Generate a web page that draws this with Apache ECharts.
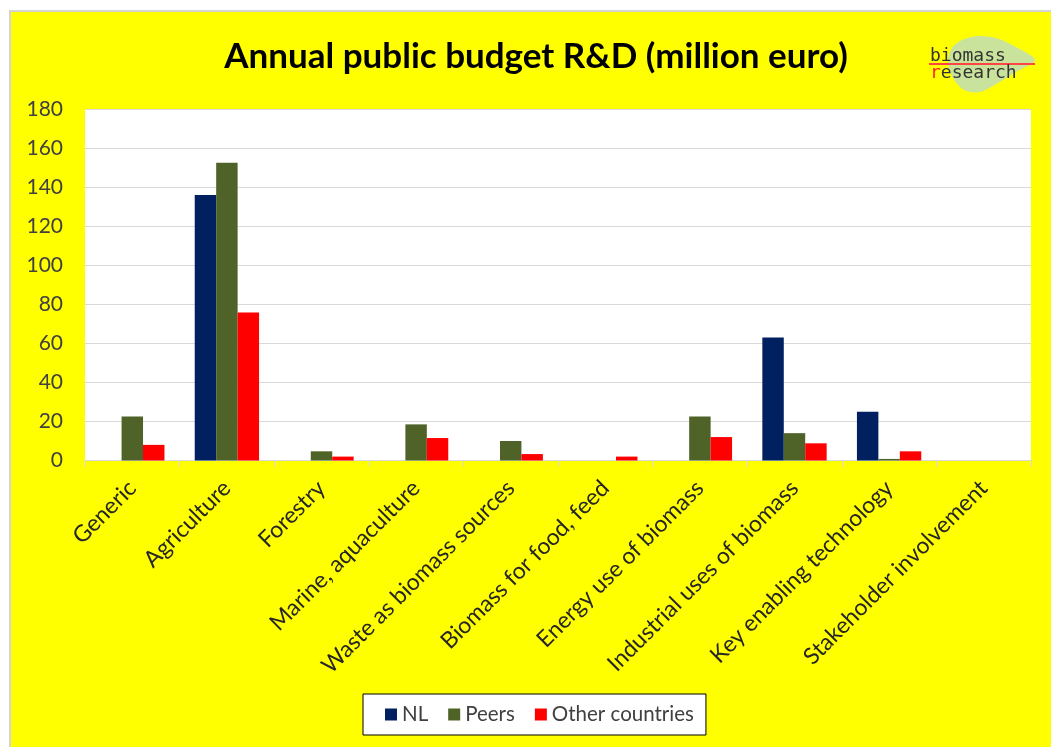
<!DOCTYPE html>
<html>
<head>
<meta charset="utf-8">
<script src="https://cdn.jsdelivr.net/npm/echarts@6/dist/echarts.min.js"></script>
<style>
html,body{margin:0;padding:0;background:#fff;}
#c{width:1051px;height:747px;}
</style>
</head>
<body>
<div id="c"></div>
<script>
const categories = ["Generic","Agriculture","Forestry","Marine, aquaculture","Waste as biomass sources","Biomass for food, feed","Energy use of biomass","Industrial uses of biomass","Key enabling technology","Stakeholder involvement"];
const nlValues = [0,136,0,0,0,0,0,63,25,0];
const peersValues = [22.5,152.5,4.7,18.5,10,0,22.5,14,0.8,0];
const otherValues = [8,75.8,2,11.5,3.3,2,12,8.8,4.7,0];
const seriesNames = ["NL","Peers","Other countries"];
const yTicks = {min:0,max:180,interval:20};

const FONT = 'Lato, "Open Sans", sans-serif';
const MONO = '18px "DejaVu Sans Mono", monospace';
const chart = echarts.init(document.getElementById('c'), null, {renderer:'canvas'});
chart.setOption({
  backgroundColor:'transparent',
  animation:false,
  graphic:[
    {type:'rect',z:-10,shape:{x:10,y:11,width:1050,height:745},style:{fill:'#FFFF00',stroke:'#d4d4d4',lineWidth:2}},
    {type:'polygon',z:-5,shape:{smooth:0.3,points:[[948,62],[952,48],[962,40],[978,36],[996,38],[1014,46],[1035,60],[1016,72],[998,83],[980,92],[964,90],[953,78]]},style:{fill:'#c9e29c'}},
    {type:'text',z:5,style:{x:930,y:47,text:'biomass',font:MONO,fill:'#333333'}},
    {type:'line',z:5,shape:{x1:929,y1:64,x2:1035,y2:64},style:{stroke:'#ff4444',lineWidth:2}},
    {type:'text',z:5,style:{x:930,y:64,text:'{r|r}{t|esearch}',rich:{r:{fill:'#ff2020',font:MONO},t:{fill:'#333333',font:MONO}}}}
  ],
  title:{text:'Annual public budget R&D (million euro)',left:531,textAlign:'center',top:34,
    textStyle:{fontFamily:FONT,fontWeight:'bold',fontSize:35,color:'#000'}},
  legend:{data:seriesNames,left:363,top:694,itemWidth:12,itemHeight:12,itemGap:20,
    padding:[10,12,10,22],backgroundColor:'#fff',borderColor:'#000',borderWidth:1,borderRadius:0,
    icon:'rect',textStyle:{fontFamily:FONT,fontSize:20.5,color:'#404040'}},
  grid:{left:85,right:20,top:109,bottom:286.5,show:true,backgroundColor:'#fff',borderWidth:0},
  xAxis:{type:'category',data:categories,
    axisLine:{lineStyle:{color:'#d9d9d9',width:1}},
    axisTick:{show:true,length:6,lineStyle:{color:'#d9d9d9'}},
    axisLabel:{rotate:45,interval:0,margin:24,fontFamily:FONT,fontSize:23,color:'#262626'}},
  yAxis:{type:'value',min:yTicks.min,max:yTicks.max,interval:yTicks.interval,
    axisLine:{show:false},axisTick:{show:false},
    splitLine:{lineStyle:{color:'#d9d9d9',width:1}},
    axisLabel:{margin:22,fontFamily:FONT,fontSize:21,color:'#404040'}},
  series:[
    {name:seriesNames[0],type:'bar',data:nlValues,itemStyle:{color:'#002060'},barGap:'0%',barCategoryGap:'32%'},
    {name:seriesNames[1],type:'bar',data:peersValues,itemStyle:{color:'#4F6228'},barGap:'0%',barCategoryGap:'32%'},
    {name:seriesNames[2],type:'bar',data:otherValues,itemStyle:{color:'#FF0000'},barGap:'0%',barCategoryGap:'32%'}
  ]
});
</script>
</body>
</html>
